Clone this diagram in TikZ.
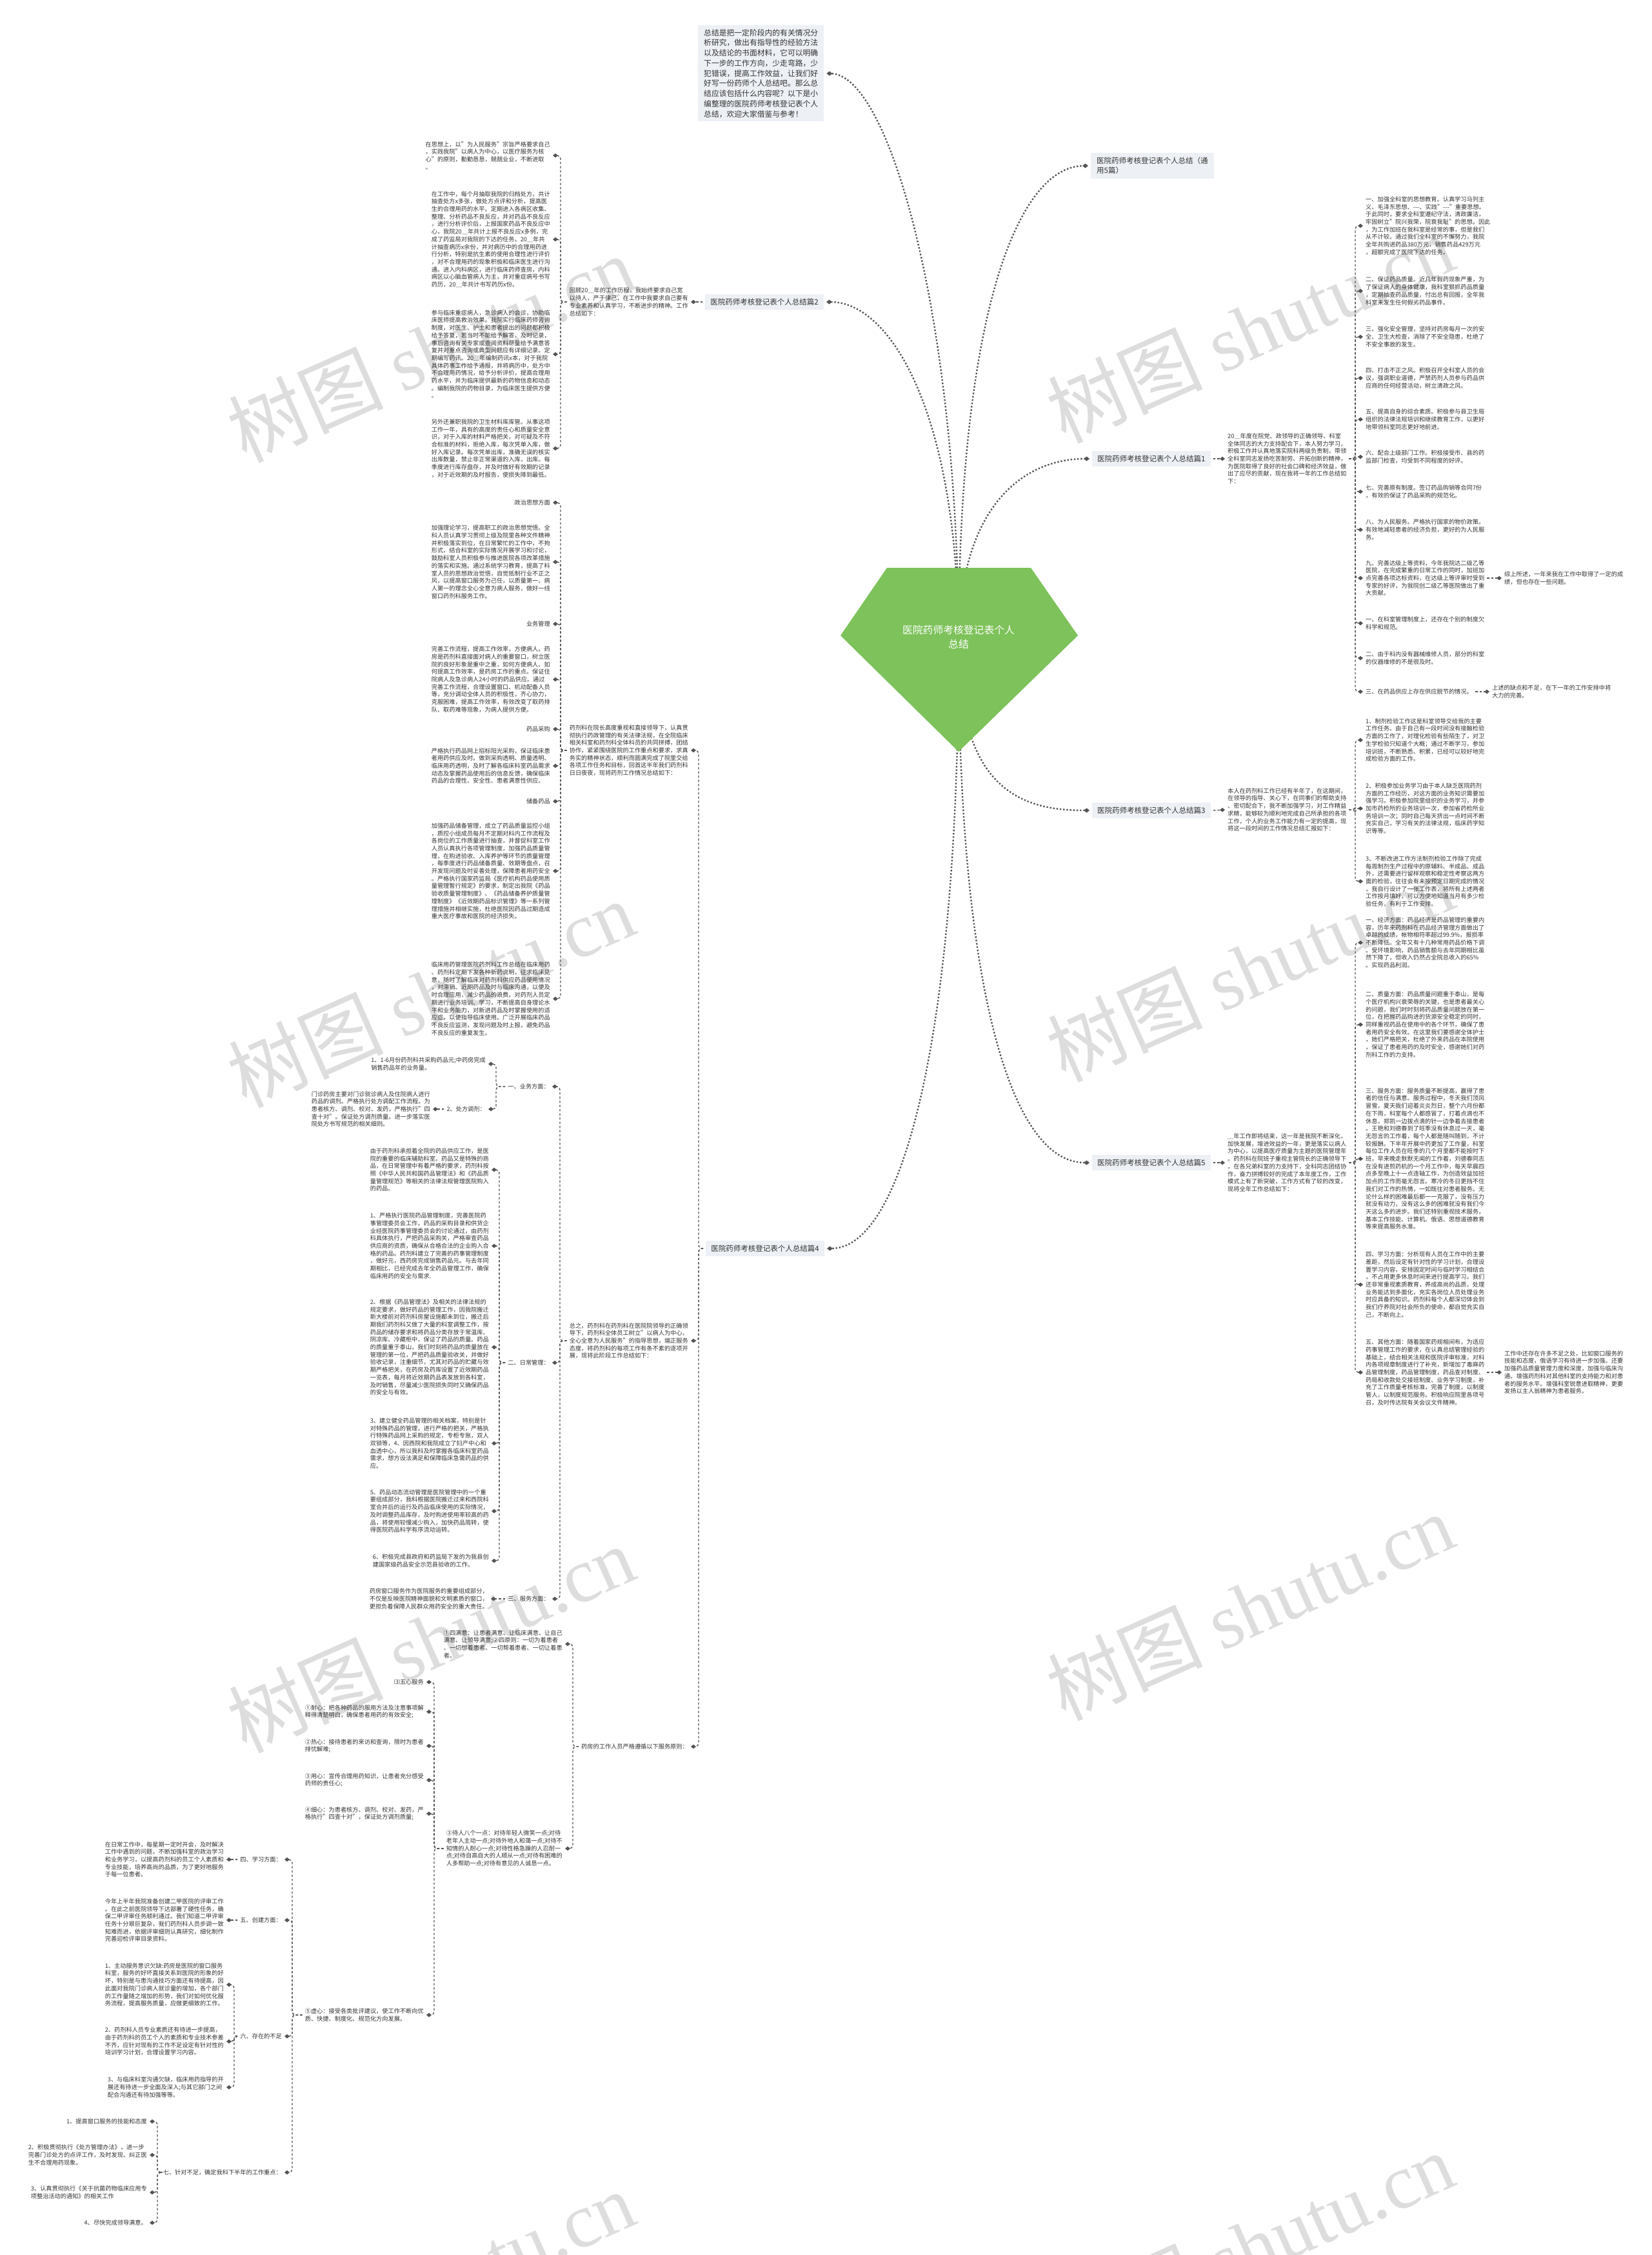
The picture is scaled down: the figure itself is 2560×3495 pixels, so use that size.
\documentclass[tikz,border=0pt]{standalone}
\usepackage{fontspec}
\setmainfont{Noto Sans CJK SC}
\newfontfamily\wmlat{Liberation Serif}
\usetikzlibrary{arrows.meta}
\definecolor{lkc}{HTML}{555555}
\definecolor{txc}{HTML}{333333}
\definecolor{bxc}{HTML}{EDF0F5}
\definecolor{grc}{HTML}{7DC25A}
\definecolor{wmc}{HTML}{DDDDDD}
\tikzset{
 tx/.style={font=\fontsize{9.2}{11.7}\selectfont, align=left, inner sep=0pt, text=txc},
 lb/.style={font=\fontsize{11.5}{15}\selectfont, align=left, fill=bxc, inner xsep=8pt, inner ysep=7pt, text=txc},
 br/.style={draw=lkc, line width=2.4pt, dash pattern=on 2.4pt off 2.8pt, -{Diamond[length=9pt,width=7pt]}},
 lk/.style={draw=lkc, line width=1.4pt, dash pattern=on 3.5pt off 3pt, rounded corners=5pt, -{Diamond[length=8pt,width=6.5pt]}},
 wm/.style={font=\fontsize{120}{120}\selectfont, text=wmc, rotate=24},
}
\newcommand\rlink[2]{\draw[lk] ([xshift=4pt]#1.east) -| ([xshift=-16pt]#2.west) -- ([xshift=-4pt]#2.west);}
\newcommand\llink[2]{\draw[lk] ([xshift=-4pt]#1.west) -| ([xshift=16pt]#2.east) -- ([xshift=4pt]#2.east);}
\newcommand\rstr[2]{\draw[lk] ([xshift=4pt]#1.east) -- ([xshift=-4pt]#2.west);}
\newcommand\lstr[2]{\draw[lk] ([xshift=-4pt]#1.west) -- ([xshift=4pt]#2.east);}
\begin{document}
\begin{tikzpicture}[x=1pt,y=-1pt]
\fill[white] (0,0) rectangle (2560,3495);
\useasboundingbox (0,0) rectangle (2560,3495);
% watermarks
\node[wm] (wm1) at (668,540) {树图 {\wmlat shutu.cn}};
\node[wm] (wm2) at (1938,510) {树图 {\wmlat shutu.cn}};
\node[wm] (wm3) at (668,1540) {树图 {\wmlat shutu.cn}};
\node[wm] (wm4) at (1938,1500) {树图 {\wmlat shutu.cn}};
\node[wm] (wm5) at (668,2540) {树图 {\wmlat shutu.cn}};
\node[wm] (wm6) at (1938,2490) {树图 {\wmlat shutu.cn}};
\node[wm] (wm7) at (668,3540) {树图 {\wmlat shutu.cn}};
\node[wm] (wm8) at (1938,3480) {树图 {\wmlat shutu.cn}};

\coordinate (rc) at (1486,1000);
% ---------- top level labels ----------
\node[lb, font=\fontsize{11.8}{15.75}\selectfont, anchor=north west, inner xsep=9pt, inner ysep=6pt] (intro) at (1082,39) {总结是把一定阶段内的有关情况分\\析研究，做出有指导性的经验方法\\以及结论的书面材料，它可以明确\\下一步的工作方向，少走弯路，少\\犯错误，提高工作效益，让我们好\\好写一份药师个人总结吧。那么总\\结应该包括什么内容呢？以下是小\\编整理的医院药师考核登记表个人\\总结，欢迎大家借鉴与参考！};
\node[lb, anchor=west, inner xsep=9pt] (l0) at (1691,257) {医院药师考核登记表个人总结（通\\用5篇）};
\node[lb, anchor=west] (l1) at (1693,711) {医院药师考核登记表个人总结篇1};
\node[lb, anchor=west] (l3) at (1693,1256) {医院药师考核登记表个人总结篇3};
\node[lb, anchor=west] (l5) at (1693,1802) {医院药师考核登记表个人总结篇5};
\node[lb, anchor=east] (l2) at (1277,468) {医院药师考核登记表个人总结篇2};
\node[lb, anchor=east] (l4) at (1278,1935) {医院药师考核登记表个人总结篇4};

% ---------- second level text blocks ----------
\node[tx, anchor=west] (s1) at (1903,711) {20＿年度在院党、政领导的正确领导、科室\\全体同志的大力支持配合下，本人努力学习，\\积极工作并认真地落实院科两级负责制，带领\\全科室同志发扬吃苦耐劳、开拓创新的精神，\\为医院取得了良好的社会口碑和经济效益，做\\出了应尽的贡献，现在我将一年的工作总结如\\下：};
\node[tx, anchor=west] (s3) at (1903,1255) {本人在药剂科工作已经有半年了，在这期间，\\在领导的指导、关心下，在同事们的帮助支持\\、密切配合下，我不断加强学习，对工作精益\\求精，能够较为顺利地完成自己所承担的各项\\工作，个人的业务工作能力有一定的提高，现\\将这一段时间的工作情况总结汇报如下：};
\node[tx, anchor=west] (s5) at (1903,1802) {＿年工作即将结束，这一年是我院不断深化，\\加快发展，增进效益的一年，更是落实以病人\\为中心，以提高医疗质量为主题的医院管理年\\。药剂科在院班子重视主管院长的正确领导下\\，在各兄弟科室的力支持下，全科同志团结协\\作，奋力拼搏较好的完成了本年度工作，工作\\模式上有了新突破，工作方式有了较的改变，\\现将全年工作总结如下：};
\node[tx, anchor=east] (s2) at (1067,468) {回顾20＿年的工作历程，我始终要求自己宽\\以待人，严于律己，在工作中我要求自己要有\\专业素养和认真学习，不断进步的精神。工作\\总结如下：};
\node[tx, anchor=east] (s4a) at (1067,1163) {药剂科在院长高度重视和直接领导下，认真贯\\彻执行药政管理的有关法律法规，在全院临床\\相关科室和药剂科全体科员的共同拼搏，团结\\协作，紧紧围绕医院的工作重点和要求，求真\\务实的精神状态，顺利而圆满完成了院里交给\\各项工作任务和目标，回首这半年我们药剂科\\日日夜夜，现将药剂工作情况总结如下：};
\node[tx, anchor=east] (s4b) at (1067,2078) {总之，药剂科在药剂科在医院院领导的正确领\\导下，药剂科全体员工树立"以病人为中心，\\全心全意为人民服务"的指导思想，端正服务\\态度，将药剂科的每项工作有条不紊的逐项开\\展，现将此阶段工作总结如下：};
\node[tx, anchor=east] (s4c) at (1067,2707) {药房的工作人员严格遵循以下服务原则：};

% ---------- 总结1 children ----------
\node[tx, anchor=west] (a1) at (2117,350) {一、加强全科室的思想教育。认真学习马列主\\义、毛泽东思想、-{}-{}-、实践"-{}-{}-"重要思想。\\于此同时，要求全科室遵纪守法，清政廉洁，\\牢固树立"院兴我荣，院衰我耻"的思想。因此\\，为工作加班在我科室是经常的事，但是我们\\从不计较。通过我们全科室的不懈努力，我院\\全年共购进药品380万元，销售药品429万元\\，超额完成了医院下达的任务。};
\node[tx, anchor=west] (a2) at (2117,451) {二、保证药品质量。近几年假药现象严重，为\\了保证病人的身体健康，我科室狠抓药品质量\\，定期抽查药品质量，付出总有回报，全年我\\科室未发生任何假劣药品事件。};
\node[tx, anchor=west] (a3) at (2117,522) {三、强化安全管理，坚持对药房每月一次的安\\全、卫生大检查，消除了不安全隐患，杜绝了\\不安全事故的发生。};
\node[tx, anchor=west] (a4) at (2117,586) {四、打击不正之风。积极召开全科室人员的会\\议，强调职业道德，严禁药剂人员参与药品供\\应商的任何经营活动，树立清政之风。};
\node[tx, anchor=west] (a5) at (2117,650) {五、提高自身的综合素质。积极参与县卫生局\\组织的法律法规培训和继续教育工作，以更好\\地带领科室同志更好地前进。};
\node[tx, anchor=west] (a6) at (2117,708) {六、配合上级部门工作。积极接受市、县的药\\监部门检查，均受到不同程度的好评。};
\node[tx, anchor=west] (a7) at (2117,762) {七、完善原有制度。签订药品购销等合同7份\\，有效的保证了药品采购的规范化。};
\node[tx, anchor=west] (a8) at (2117,821) {八、为人民服务。严格执行国家的物价政策。\\有效地减轻患者的经济负担，更好的为人民服\\务。};
\node[tx, anchor=west] (a9) at (2117,896) {九、完善达级上等资料，今年我院达二级乙等\\医院，在完成繁重的日常工作的同时，加班加\\点完善各项达标资料，在达级上等评审时受到\\专家的好评，为我院创二级乙等医院做出了重\\大贡献。};
\node[tx, anchor=west] (a10) at (2117,966) {一、在科室管理制度上，还存在个别的制度欠\\科学和规范。};
\node[tx, anchor=west] (a11) at (2117,1020) {二、由于科内没有器械维修人员，部分的科室\\的仪器维修的不是很及时。};
\node[tx, anchor=west] (a12) at (2117,1072) {三、在药品供应上存在供应脱节的情况。};
\node[tx, anchor=west] (a9s) at (2332,896) {综上所述，一年来我在工作中取得了一定的成\\绩，但也存在一些问题。};
\node[tx, anchor=west] (a12s) at (2313,1072) {上述的缺点和不足，在下一年的工作安排中将\\大力的完善。};

% ---------- 总结3 children ----------
\node[tx, anchor=west] (b1) at (2117,1147) {1、制剂检验工作这是科室领导交给我的主要\\工作任务。由于自己有一段时间没有接触检验\\方面的工作了，对理化检验有些陌生了，对卫\\生学检验只知道个大概；通过不断学习，参加\\培训班，不断熟悉、积累，已经可以较好地完\\成检验方面的工作。};
\node[tx, anchor=west] (b2) at (2117,1253) {2、积极参加业务学习由于本人缺乏医院药剂\\方面的工作经历，对这方面的业务知识需要加\\强学习。积极参加院里组织的业务学习，并参\\加市药检所的业务培训一次，参加省药检所业\\务培训一次；同时自己每天挤出一点时间不断\\充实自己，学习有关的法律法规，临床药学知\\识等等。};
\node[tx, anchor=west] (b3) at (2117,1366) {3、不断改进工作方法制剂检验工作除了完成\\每周制剂生产过程中的原辅料、半成品、成品\\外，还需要进行留样观察和稳定性考察这两方\\面的检验，往往会有未按预定日期完成的情况\\，我自行设计了一张工作表，将所有上述两者\\工作按月填好，可以方便地知道当月有多少检\\验任务，有利于工作安排。};

% ---------- 总结5 children ----------
\node[tx, anchor=west] (c1) at (2117,1461) {一、经济方面：药品经济是药品管理的重要内\\容，历年来药剂科在药品经济管理方面做出了\\卓越的成绩，帐物相符率超过99.9\%，报损率\\不断降低。全年又有十几种常用药品价格下调\\。受环境影响，药品销售额与去年同期相比虽\\然下降了，但收入仍然占全院总收入的65\%\\。实现药品利润。};
\node[tx, anchor=west] (c2) at (2117,1588) {二、质量方面：药品质量问题重于泰山，是每\\个医疗机构兴衰荣辱的关键，也是患者最关心\\的问题，我们时时刻将药品质量问题放在第一\\位，在把握药品购进的货源安全稳定的同时，\\同样重视药品在使用中的各个环节，确保了患\\者用药安全有效。在这里我们要感谢全体护士\\，她们严格把关，杜绝了外来药品在本院使用\\，保证了患者用药的及时安全，感谢她们对药\\剂科工作的力支持。};
\node[tx, anchor=west] (c3) at (2117,1796) {三、服务方面：服务质量不断提高，赢得了患\\者的信任与满意。服务过程中，冬天我们顶风\\冒雪，夏天我们迎着炎炎烈日，整个六月份都\\在下雨，科室每个人都感冒了，打着点滴也不\\休息，郑凯一边拔点滴的针一边争着去接患者\\。王艳和刘德春到了旺季没有休息过一天，毫\\无怨言的工作着，每个人都是随叫随到，不计\\较报酬。下半年开展中药更加了工作量，科室\\每位工作人员在旺季的几个月里都不能按时下\\班，早来晚走默默无闻的工作着，刘德春同志\\在没有进煎药机的一个月工作中，每天早晨四\\点多至晚上十一点连轴工作，为创造效益加班\\加点的工作而毫无怨言。寒冷的冬日更挡不住\\我们对工作的热情，一如既往对患者服务。无\\论什么样的困难最后都一一克服了，没有压力\\就没有动力，没有这么多的困难就没有我们今\\天这么多的进步。我们还特别重视技术服务，\\基本工作技能、计算机、俄语、思想道德教育\\等来提高服务水准。};
\node[tx, anchor=west] (c4) at (2117,1991) {四、学习方面：分析现有人员在工作中的主要\\差距，然后设定有针对性的学习计划，合理设\\置学习内容，安排固定时间与临时学习相结合\\，不占用更多休息时间来进行提高学习。我们\\还非常重视素质教育，养成高尚的品质，处理\\业务能达到多面化，充实各岗位人员处理业务\\时应具备的知识。药剂科每个人都深切体会到\\我们疗养院对社会所负的使命，都自觉充实自\\己，不断向上。};
\node[tx, anchor=west] (c5) at (2117,2127) {五、其他方面：随着国家药规相间布，为适应\\药事管理工作的要求，在认真总结管理经验的\\基础上，结合相关法规和医院评审标准，对科\\内各项规章制度进行了补充，新增加了毒麻药\\品管理制度，药品管理制度，药品查对制度、\\药局和收款处交接班制度、业务学习制度，补\\充了工作质量考核标准，完善了制度，以制度\\管人，以制度规范服务。积极响应院里各项号\\召，及时传达院有关会议文件精神。};
\node[tx, anchor=west] (c5s) at (2332,2127) {工作中还存在许多不足之处，比如窗口服务的\\技能和态度，俄语学习有待进一步加强。还要\\加强药品质量管理力度和深度，加强与临床沟\\通。增强药剂科对其他科室的支持能力和对患\\者的服务水平。增强科室锐意进取精神，更要\\发扬以主人翁精神为患者服务。};

% ---------- 总结2 children ----------
\node[tx, anchor=east] (d1) at (853,241) {在思想上，以"为人民服务"宗旨严格要求自己\\，实践我院"以病人为中心，以医疗服务为核\\心"的原则，勤勤恳恳，兢兢业业，不断进取\\。};
\node[tx, anchor=east] (d2) at (853,371) {在工作中，每个月抽取我院的归档处方，共计\\抽查处方x多张，做处方点评和分析，提高医\\生的合理用药的水平。定期进入各病区收集、\\整理、分析药品不良反应，并对药品不良反应\\，进行分析评价后，上报国家药品不良反应中\\心，我院20＿年共计上报不良反应x多例，完\\成了药监局对我院的下达的任务。20＿年共\\计抽查病历x余份，并对病历中的合理用药进\\行分析，特别是抗生素的使用合理性进行评价\\，对不合理用药的现象积极和临床医生进行沟\\通。进入内科病区，进行临床药师查房，内科\\病区以心脑血管病人为主，并对重症病号书写\\药历，20＿年共计书写药历x份。};
\node[tx, anchor=east] (d3) at (853,549) {参与临床重症病人，急诊病人的会诊，协助临\\床医师提高救治效果。我院实行临床药师咨询\\制度，对医生、护士和患者提出的问题都积极\\给予答复，若当时不能给予解答，及时记录，\\事后咨询有关专家或查阅资料尽量给予满意答\\复并对重点咨询或典型问题应有详细记录。定\\期编写药讯。20＿年编制药讯x本，对于我院\\具体药事工作给予通报，并将病历中，处方中\\不合理用药情况，给予分析评价，提高合理用\\药水平，并为临床提供最新的药物信息和动态\\。编制我院的药物目录，为临床医生提供方便\\。};
\node[tx, anchor=east] (d4) at (853,695) {另外还兼职我院的卫生材料库库管。从事这项\\工作一年，具有的高度的责任心和质量安全意\\识，对于入库的材料严格把关，对可疑及不符\\合标准的材料，拒绝入库，每次凭单入库，做\\好入库记录。每次凭单出库，准确无误的核实\\出库数量，禁止非正常渠道的入库，出库。每\\季度进行库存盘存，并及时做好有效期的记录\\，对于近效期的及时报告，使损失降到最低。};

% ---------- 总结4 / s4a children ----------
\node[tx, anchor=east] (e1) at (853,779) {政治思想方面};
\node[tx, anchor=east] (e2) at (853,871) {加强理论学习，提高职工的政治思想觉悟。全\\科人员认真学习贯彻上级及院里各种文件精神\\并积极落实到位，在日常繁忙的工作中，不拘\\形式，结合科室的实际情况开展学习和讨论，\\鼓励科室人员积极参与推进医院各项改革措施\\的落实和实施。通过系统学习教育，提高了科\\室人员的思想政治觉悟，自觉抵制行业不正之\\风，以提高窗口服务为己任，以质量第一、病\\人第一的理念全心全意为病人服务，做好一线\\窗口药剂科服务工作。};
\node[tx, anchor=east] (e3) at (853,967) {业务管理};
\node[tx, anchor=east] (e4) at (853,1053) {完善工作流程，提高工作效率，方便病人。药\\房是药剂科直接面对病人的重要窗口，树立医\\院的良好形象是重中之重，如何方便病人、如\\何提高工作效率，是药房工作的重点。保证住\\院病人及急诊病人24小时的药品供应。通过\\完善工作流程，合理设置窗口、机动配备人员\\等，充分调动全体人员的积极性，齐心协力，\\克服困难，提高工作效率，有效改变了取药排\\队、取药难等现象，为病人提供方便。};
\node[tx, anchor=east] (e5) at (853,1130) {药品采购};
\node[tx, anchor=east] (e6) at (853,1187) {严格执行药品网上招标阳光采购，保证临床患\\者用药供应及时。做到采购透明、质量透明、\\临床用药透明，及时了解各临床科室药品需求\\动态及掌握药品使用后的信息反馈，确保临床\\药品的合理性、安全性、患者满意性供应。};
\node[tx, anchor=east] (e7) at (853,1242) {储备药品};
\node[tx, anchor=east] (e8) at (853,1350) {加强药品储备管理，成立了药品质量监控小组\\，质控小组成员每月不定期对科内工作流程及\\各岗位的工作质量进行抽查，并督促科室工作\\人员认真执行各项管理制度，加强药品质量管\\理，在购进验收、入库养护等环节的质量管理\\，每季度进行药品储备质量、效期等盘点，召\\开发现问题及时妥善处理，保障患者用药安全\\。严格执行国家药监局《医疗机构药品使用质\\量管理暂行规定》的要求，制定出我院《药品\\验收质量管理制度》、《药品储备养护质量管\\理制度》《近效期药品标识管理》等一系列管\\理措施并相继实施，杜绝医院因药品过期造成\\重大医疗事故和医院的经济损失。};
\node[tx, anchor=east] (e9) at (853,1548) {临床用药管理医院药剂科工作总结在临床用药\\、药剂科定期下发各种新药说明，征求临床见\\意，随时了解临床对药剂科供应药品使用情况\\，对滞销、近期药品及时与临床沟通，以便及\\时合理应用，减少药品的浪费。对药剂人员定\\期进行业务培训、学习，不断提高自身理论水\\平和业务能力，对新进药品及时掌握使用的适\\应症，以便指导临床使用。广泛开展临床药品\\不良反应监测，发现问题及时上报，避免药品\\不良反应的重复发生。};

% ---------- s4b children ----------
\node[tx, anchor=east] (f1) at (852,1684) {一、业务方面：};
\node[tx, anchor=east] (f2) at (852,2112) {二、日常管理：};
\node[tx, anchor=east] (f3) at (852,2478) {三、服务方面：};
\node[tx, anchor=east] (f1a) at (753,1649) {1、1-6月份药剂科共采购药品元;中药房完成\\销售药品年的业务量。};
\node[tx, anchor=east] (f1b) at (753,1719) {2、处方调剂：};
\node[tx, anchor=east] (f1c) at (667,1719) {门诊药房主要对门诊就诊病人及住院病人进行\\药品的调剂。严格执行处方调配工作流程。为\\患者核方、调剂、校对、发药，严格执行"四\\查十对"。保证处方调剂质量。进一步落实医\\院处方书写规范的相关细则。};
\node[tx, anchor=east] (f2a) at (758,1813) {由于药剂科承担着全院的药品供应工作，是医\\院的重要的临床辅助科室。药品又是特殊的商\\品，在日常管理中有着严格的要求，药剂科按\\照《中华人民共和国药品管理法》和《药品质\\量管理规范》等相关的法律法规管理医院购入\\的药品。};
\node[tx, anchor=east] (f2b) at (758,1931) {1、严格执行医院药品管理制度，完善医院药\\事管理委员会工作，药品的采购目录和供货企\\业经医院药事管理委员会的讨论通过，由药剂\\科具体执行，严把药品采购关，严格审查药品\\供应商的资质，确保从合格合法的企业购入合\\格的药品。药剂科建立了完善的药事管理制度\\，做好元，西药房完成销售药品元。与去年同\\期相比，已经完成去年全药品管理工作，确保\\临床用药的安全与需求.};
\node[tx, anchor=east] (f2c) at (758,2088) {2、根据《药品管理法》及相关的法律法规的\\规定要求，做好药品的管理工作，因我院搬迁\\新大楼前对药剂科房屋设施都未到位，搬迁后\\期我们药剂科又做了大量的科室调整工作，按\\药品的储存要求和将药品分类存放于常温库、\\阴凉库、冷藏柜中，保证了药品的质量。药品\\的质量重于泰山，我们时刻将药品的质量放在\\管理的第一位，严把药品质量验收关，并做好\\验收记录，注重细节，尤其对药品的贮藏与效\\期严格把关，在药房及药库设置了近效期药品\\一览表，每月将近效期药品表发放到各科室，\\及时销售，尽量减少医院损失同时又确保药品\\的安全与有效。};
\node[tx, anchor=east] (f2d) at (758,2237) {3、建立健全药品管理的相关档案，特别是针\\对特殊药品的管理，进行严格的把关，严格执\\行特殊药品网上采购的规定，专柜专账，双人\\双锁等，4、因西院和我院成立了妇产中心和\\血透中心，所以我科及时掌握各临床科室药品\\需求，想方设法满足和保障临床急需药品的供\\应。};
\node[tx, anchor=east] (f2e) at (758,2342) {5、药品动态流动管理是医院管理中的一个重\\要组成部分，我科根据医院搬迁过来和西院科\\室合并后的运行及药品临床使用的实际情况，\\及时调整药品库存，及时购进使用率较高的药\\品，将使用较慢减少购入，加快药品周转，使\\得医院药品科学有序流动运转。};
\node[tx, anchor=east] (f2f) at (758,2419) {6、积极完成县政府和药监局下发的为我县创\\建国家级药品安全示范县验收的工作。};
\node[tx, anchor=east] (f3a) at (757,2478) {药房窗口服务作为医院服务的重要组成部分，\\不仅是反映医院精神面貌和文明素质的窗口，\\更担负着保障人民群众用药安全的重大责任。};

% ---------- s4c children ----------
\node[tx, anchor=east] (g1) at (872,2548) {①四满意：让患者满意、让临床满意、让自己\\满意、让领导满意;②四原则：一切为着患者\\、一切想着患者、一切帮着患者、一切让着患\\者。};
\node[tx, anchor=east] (g2) at (872,2865) {③待人八个一点：对待年轻人微笑一点;对待\\老年人主动一点;对待外地人和蔼一点;对待不\\知情的人耐心一点;对待性格急躁的人忍耐一\\点;对待自高自大的人顺从一点;对待有困难的\\人多帮助一点;对待有意见的人诚恳一点。};
\node[tx, anchor=east] (h0) at (657,2607) {⑶五心服务};
\node[tx, anchor=east] (h1) at (657,2653) {①耐心：把各种药品的服用方法及注意事项解\\释得清楚明白，确保患者用药的有效安全;};
\node[tx, anchor=east] (h2) at (657,2706) {②热心：接待患者的来访和查询，限时为患者\\排忧解难;};
\node[tx, anchor=east] (h3) at (657,2759) {③用心：宣传合理用药知识，让患者充分感受\\药师的责任心;};
\node[tx, anchor=east] (h4) at (657,2811) {④细心：为患者核方、调剂、校对、发药，严\\格执行"四查十对"，保证处方调剂质量;};
\node[tx, anchor=east] (h5) at (657,3123) {⑤虚心：接受各类批评建议，使工作不断向优\\质、快捷、制度化、规范化方向发展。};
\node[tx, anchor=east] (i1) at (437,2882) {四、学习方面：};
\node[tx, anchor=east] (i2) at (437,2976) {五、创建方面：};
\node[tx, anchor=east] (i3) at (437,3156) {六、存在的不足};
\node[tx, anchor=east] (i4) at (437,3367) {七、针对不足，确定我科下半年的工作重点：};
\node[tx, anchor=east] (i1a) at (347,2882) {在日常工作中，每星期一定时开会，及时解决\\工作中遇到的问题，不断加强科室的政治学习\\和业务学习，以提高药剂科的员工个人素质和\\专业技能，培养高尚的品质，为了更好地服务\\于每一位患者。};
\node[tx, anchor=east] (i2a) at (347,2976) {今年上半年我院准备创建二甲医院的评审工作\\。在此之前医院领导下达部署了硬性任务，确\\保二甲评审任务顺利通过。我们知道二甲评审\\任务十分艰巨复杂，我们药剂科人员步调一致\\知难而进，依据评审细则认真研究，细化制作\\完善迎检评审目录资料。};
\node[tx, anchor=east] (i3a) at (347,3076) {1、主动服务意识欠缺:药房是医院的窗口服务\\科室，服务的好坏直接关系到医院的形象的好\\坏，特别是与患沟通技巧方面还有待提高，因\\此面对我院门诊病人就诊量的增加，各个部门\\的工作量随之增加的形势，我们对如何优化服\\务流程，提高服务质量，应做更细致的工作。};
\node[tx, anchor=east] (i3b) at (347,3164) {2、药剂科人员专业素质还有待进一步提高，\\由于药剂科的员工个人的素质和专业技术参差\\不齐，应针对现有的工作不足设定有针对性的\\培训学习计划，合理设置学习内容。};
\node[tx, anchor=east] (i3c) at (347,3235) {3、与临床科室沟通欠缺，临床用药指导的开\\展还有待进一步全面及深入;与其它部门之间\\配合沟通还有待加强等等。};
\node[tx, anchor=east] (i4a) at (228,3288) {1、提高窗口服务的技能和态度};
\node[tx, anchor=east] (i4b) at (228,3340) {2、积极贯彻执行《处方管理办法》，进一步\\完善门诊处方的点评工作，及时发现、纠正医\\生不合理用药现象。};
\node[tx, anchor=east] (i4c) at (228,3398) {3、认真贯彻执行《关于抗菌药物临床应用专\\项整治活动的通知》的相关工作};
\node[tx, anchor=east] (i4d) at (228,3445) {4、尽快完成领导满意。};

% ---------- root branches ----------
\draw[br] (rc) .. controls (1486,500) and (1380,116) .. ([xshift=4pt]intro.east);
\draw[br] (rc) .. controls (1486,480) and (1580,257) .. ([xshift=-4pt]l0.west);
\draw[br] (rc) .. controls (1486,780) and (1590,711) .. ([xshift=-4pt]l1.west);
\draw[br] (rc) .. controls (1486,640) and (1380,468) .. ([xshift=4pt]l2.east);
\draw[br] (rc) .. controls (1486,1230) and (1590,1256) .. ([xshift=-4pt]l3.west);
\draw[br] (rc) .. controls (1486,1500) and (1560,1802) .. ([xshift=-4pt]l5.west);
\draw[br] (rc) .. controls (1486,1600) and (1400,1935) .. ([xshift=4pt]l4.east);

% root node
\fill[grc] (1375,880) -- (1598,880) -- (1671,985) -- (1486,1165) -- (1303,985) -- cycle;
\node[font=\fontsize{15.8}{22}\selectfont, text=white, align=center] (root) at (1486,987) {医院药师考核登记表个人\\总结};

% ---------- second level links ----------
\rstr{l1}{s1} \rstr{l3}{s3} \rstr{l5}{s5} \lstr{l2}{s2}
\llink{l4}{s4a} \llink{l4}{s4b} \llink{l4}{s4c}
\rlink{s1}{a1} \rlink{s1}{a2} \rlink{s1}{a3} \rlink{s1}{a4} \rlink{s1}{a5} \rlink{s1}{a6}
\rlink{s1}{a7} \rlink{s1}{a8} \rlink{s1}{a9} \rlink{s1}{a10} \rlink{s1}{a11} \rlink{s1}{a12}
\rstr{a9}{a9s} \rstr{a12}{a12s}
\rlink{s3}{b1} \rlink{s3}{b2} \rlink{s3}{b3}
\rlink{s5}{c1} \rlink{s5}{c2} \rlink{s5}{c3} \rlink{s5}{c4} \rlink{s5}{c5}
\rstr{c5}{c5s}
\llink{s2}{d1} \llink{s2}{d2} \llink{s2}{d3} \llink{s2}{d4}
\llink{s4a}{e1} \llink{s4a}{e2} \llink{s4a}{e3} \llink{s4a}{e4} \llink{s4a}{e5}
\llink{s4a}{e6} \llink{s4a}{e7} \llink{s4a}{e8} \llink{s4a}{e9}
\llink{s4b}{f1} \llink{s4b}{f2} \llink{s4b}{f3}
\llink{f1}{f1a} \llink{f1}{f1b} \lstr{f1b}{f1c}
\llink{f2}{f2a} \llink{f2}{f2b} \llink{f2}{f2c} \llink{f2}{f2d} \llink{f2}{f2e} \llink{f2}{f2f}
\lstr{f3}{f3a}
\llink{s4c}{g1} \llink{s4c}{g2}
\llink{g2}{h0} \llink{g2}{h1} \llink{g2}{h2} \llink{g2}{h3} \llink{g2}{h4} \llink{g2}{h5}
\llink{h5}{i1} \llink{h5}{i2} \llink{h5}{i3} \llink{h5}{i4}
\lstr{i1}{i1a} \lstr{i2}{i2a}
\llink{i3}{i3a} \llink{i3}{i3b} \llink{i3}{i3c}
\llink{i4}{i4a} \llink{i4}{i4b} \llink{i4}{i4c} \llink{i4}{i4d}
\end{tikzpicture}
\end{document}
